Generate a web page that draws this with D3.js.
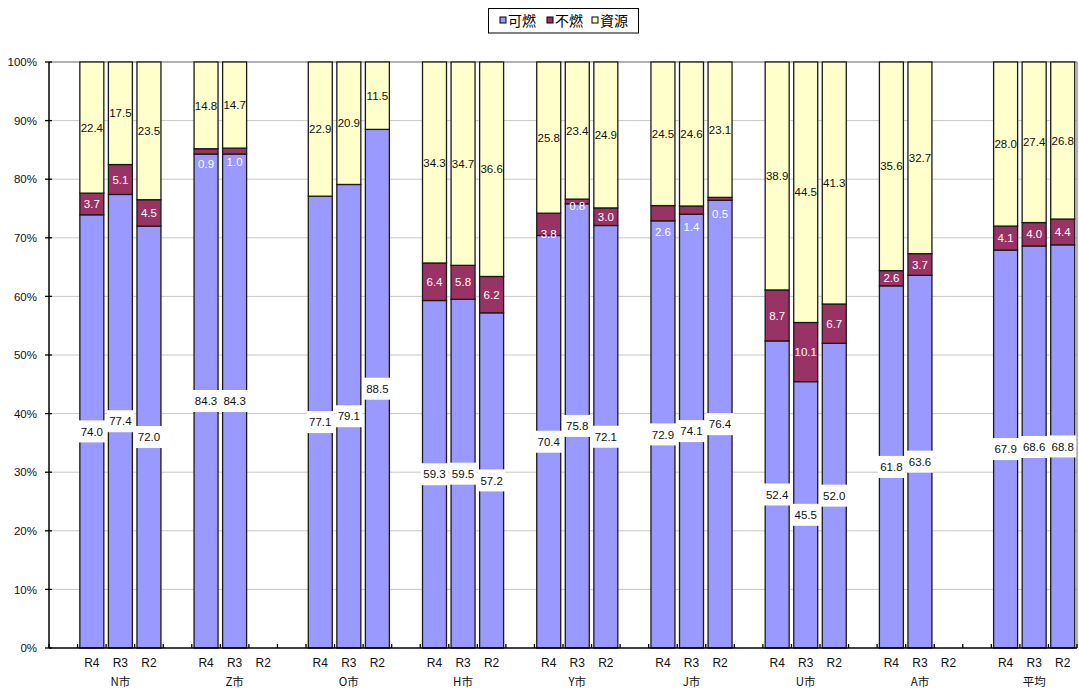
<!DOCTYPE html>
<html><head><meta charset="utf-8">
<script src="https://cdn.jsdelivr.net/npm/d3@7"></script>
<style>
html,body{margin:0;padding:0;background:#fff;}
svg{display:block;font-family:"Liberation Sans",Arial,sans-serif;}
.cjk{font-family:"Noto Sans CJK JP","Noto Sans CJK SC",sans-serif;}
</style></head>
<body>
<svg id="chart" width="1079" height="690"></svg>
<script>
// ---- data ----
const groups = ["N市","Z市","O市","H市","Y市","J市","U市","A市","平均"];
const years = ["R4","R3","R2"];
const seriesNames = ["可燃","不燃","資源"];
const kanen  = [74.0,77.4,72.0, 84.3,84.3,null, 77.1,79.1,88.5, 59.3,59.5,57.2, 70.4,75.8,72.1, 72.9,74.1,76.4, 52.4,45.5,52.0, 61.8,63.6,null, 67.9,68.6,68.8];
const funen  = [3.7,5.1,4.5,   0.9,1.0,null,  0,0,0,          6.4,5.8,6.2,    3.8,0.8,3.0,    2.6,1.4,0.5,    8.7,10.1,6.7,   2.6,3.7,null,  4.1,4.0,4.4];
const shigen = [22.4,17.5,23.5, 14.8,14.7,null, 22.9,20.9,11.5, 34.3,34.7,36.6, 25.8,23.4,24.9, 24.5,24.6,23.1, 38.9,44.5,41.3, 35.6,32.7,null, 28.0,27.4,26.8];
const yTicks = [0,0.1,0.2,0.3,0.4,0.5,0.6,0.7,0.8,0.9,1.0];

// ---- style ----
const colors = {"可燃":"#9999FF","不燃":"#993366","資源":"#FFFFCC"};
// manual label nudges (px, downwards) for small 不燃 labels, as in the original
const funenLabelNudge = {3:12, 4:11, 12:10, 13:4, 15:19, 16:17, 17:15};

const svg = d3.select("#chart");
const L = 49, R = 1077, T = 62, B = 648;

// slots: each group = [blank, R4, R3, R2]
const slots = [];
groups.forEach((g,gi)=>{
  slots.push({id:`${g}-blank`, blank:true});
  years.forEach((y,yi)=>slots.push({id:`${g}-${y}`, group:g, year:y, idx:gi*3+yi, yi}));
});
const pi = 0.16;
const x = d3.scaleBand().domain(slots.map(s=>s.id)).range([L,R]).paddingInner(pi).paddingOuter(pi/2);
const y = d3.scaleLinear().domain([0,1]).range([B,T]);

// grid
svg.append("g").selectAll("line").data(yTicks.filter(t=>t>0 && t<1)).join("line")
  .attr("x1",L).attr("x2",R).attr("y1",d=>y(d)).attr("y2",d=>y(d))
  .attr("stroke","#c8c8c8").attr("stroke-width",1);
// top & right border
svg.append("line").attr("x1",L).attr("x2",R).attr("y1",T).attr("y2",T).attr("stroke","#999").attr("stroke-width",1.5);
svg.append("line").attr("x1",R).attr("x2",R).attr("y1",T).attr("y2",B).attr("stroke","#999").attr("stroke-width",1.5);

// stack data
const rows = slots.filter(s=>!s.blank && kanen[s.idx]!=null).map(s=>({
  id:s.id, idx:s.idx, "可燃":kanen[s.idx], "不燃":funen[s.idx], "資源":shigen[s.idx]
}));
const stacked = d3.stack().keys(seriesNames).offset(d3.stackOffsetExpand)(rows);

const bw = x.bandwidth();
const barG = svg.append("g");
stacked.forEach(layer=>{
  barG.append("g").selectAll("rect").data(layer).join("rect")
    .attr("x",d=>x(d.data.id)).attr("width",bw)
    .attr("y",d=>y(d[1])).attr("height",d=>Math.max(0,y(d[0])-y(d[1])))
    .attr("fill",colors[layer.key]).attr("stroke","#1a1a1a").attr("stroke-width",1.3);
});

// labels
const lblG = svg.append("g").attr("font-size",11.5);
stacked.forEach(layer=>{
  layer.forEach(d=>{
    const v = d.data[layer.key];
    if (!v) return;
    const cx = x(d.data.id)+bw/2;
    let cy = (y(d[0])+y(d[1]))/2;
    if (layer.key==="不燃" && funenLabelNudge[d.data.idx]) cy += funenLabelNudge[d.data.idx];
    const txt = v.toFixed(1);
    if (layer.key==="可燃") {
      lblG.append("rect").attr("x",cx-13.5).attr("y",cy-11).attr("width",27).attr("height",22).attr("fill","#fff");
      lblG.append("text").attr("x",cx).attr("y",cy).attr("dy","0.36em").attr("text-anchor","middle").attr("fill","#111").text(txt);
    } else {
      lblG.append("text").attr("x",cx).attr("y",cy).attr("dy","0.36em").attr("text-anchor","middle")
        .attr("fill", layer.key==="不燃" ? "#fff" : "#111").text(txt);
    }
  });
});

// y axis
const yAxis = svg.append("g");
yAxis.append("line").attr("x1",L).attr("x2",L).attr("y1",T).attr("y2",B).attr("stroke","#000").attr("stroke-width",1.5);
yAxis.selectAll(".tk").data(yTicks).join("line").attr("class","tk")
  .attr("x1",L-4).attr("x2",L+3).attr("y1",d=>y(d)).attr("y2",d=>y(d)).attr("stroke","#000").attr("stroke-width",1.3);
yAxis.selectAll("text").data(yTicks).join("text")
  .attr("x",37).attr("y",d=>y(d)).attr("dy","0.36em").attr("text-anchor","end")
  .attr("font-size",11.5).attr("fill","#111").text(d=>d3.format(".0%")(d));

// x axis
const xAxis = svg.append("g");
xAxis.append("line").attr("x1",L).attr("x2",R).attr("y1",B).attr("y2",B).attr("stroke","#000").attr("stroke-width",1.5);
const step = x.step();
const bounds = d3.range(0, slots.length+1).map(i=>L + i*step);
xAxis.selectAll(".tk").data(bounds).join("line").attr("class","tk")
  .attr("x1",d=>d).attr("x2",d=>d).attr("y1",B-4).attr("y2",B).attr("stroke","#000").attr("stroke-width",1.3);
xAxis.selectAll(".yl").data(slots.filter(s=>!s.blank)).join("text").attr("class","yl")
  .attr("x",s=>x(s.id)+bw/2).attr("y",667).attr("text-anchor","middle")
  .attr("font-size",12).attr("fill","#111").text(s=>s.year);
xAxis.selectAll(".gl").data(slots.filter(s=>!s.blank && s.yi===1)).join("text").attr("class","gl cjk")
  .attr("x",s=>x(s.id)+bw/2).attr("y",686).attr("text-anchor","middle")
  .attr("font-size",11.5).attr("fill","#111").text(s=>s.group);

// legend
const lg = svg.append("g").attr("class","cjk");
lg.append("rect").attr("x",488.5).attr("y",8.5).attr("width",150).attr("height",24.5)
  .attr("fill","#fff").attr("stroke","#000").attr("stroke-width",1);
const lx = [500, 547, 592];
seriesNames.forEach((s,i)=>{
  lg.append("rect").attr("x",lx[i]).attr("y",17).attr("width",6).attr("height",6)
    .attr("fill",colors[s]).attr("stroke","#000").attr("stroke-width",1);
  lg.append("text").attr("x",lx[i]+8).attr("y",20.5).attr("dy","0.36em")
    .attr("font-size",14).attr("fill","#000").text(s);
});
</script>
</body></html>
